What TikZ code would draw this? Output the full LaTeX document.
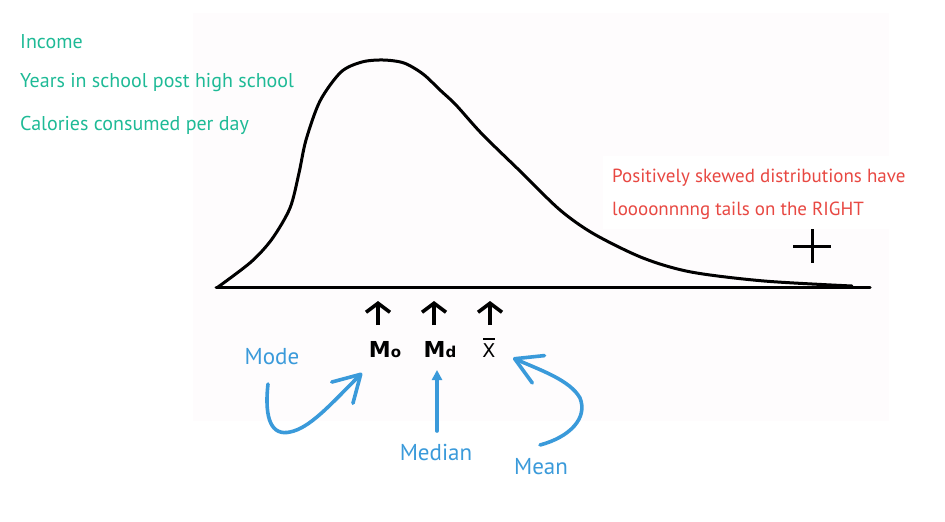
\documentclass[tikz,border=0pt]{standalone}
\usepackage{fontspec}
\setmainfont{PT Sans}
\newfontfamily\handfont{PT Sans}
\newfontfamily\symfont{DejaVu Sans}
\usetikzlibrary{arrows.meta}
\definecolor{bgpink}{RGB}{254,252,253}
\definecolor{tealgreen}{RGB}{30,186,150}
\definecolor{skewred}{RGB}{232,72,66}
\definecolor{annoblue}{RGB}{58,154,218}
\begin{document}
\begin{tikzpicture}[x=1pt,y=-1pt,
  hand/.style={font=\handfont\fontsize{20}{23}\selectfont, anchor=west, inner sep=0pt},
  greentext/.style={hand, text=tealgreen},
  redtext/.style={hand, font=\handfont\fontsize{19}{22}\selectfont, text=skewred},
  bluetext/.style={font=\handfont\fontsize{23}{26}\selectfont, inner sep=0pt, text=annoblue},
  measure/.style={font=\symfont\bfseries\fontsize{22}{24}\selectfont, inner sep=0pt},
  curveline/.style={line width=3pt, line join=round, line cap=round},
  uparrow/.style={line width=3.6pt, -{Straight Barb[length=9pt,width=24pt,line width=3.6pt]}},
  bluearrow/.style={annoblue, line width=3.6pt, line cap=round, line join=round},
  barbhead/.style={-{Straight Barb[length=26pt,width=30pt,line width=3.6pt, round]}},
  trihead/.style={-{Triangle[length=10pt,width=10pt]}}
]
\useasboundingbox (0,0) rectangle (945,522);
\fill[bgpink] (193,13) rectangle (889,421);
\fill[white] (603,156) rectangle (945,229);

% texts at top left
\node[greentext] (income) at (20,42) {Income};
\node[greentext] (years) at (20,83) {Years in school post high school};
\node[greentext] (calories) at (20,125) {Calories consumed per day};

% red note
\node[redtext] (note1) at (612,178) {Positively skewed distributions have};
\node[redtext] (note2) at (612,211) {loooonnnng tails on the RIGHT};

% axis and curve
\coordinate (axisL) at (216,287);
\coordinate (axisR) at (870,287);
\draw[curveline] (axisL) -- (axisR);
\draw[curveline] plot[smooth, tension=0.5] coordinates {
 (218,287) (251,262) (272,239) (290,208) (299,173) (306,140) (320,101)
 (341,72) (362,62) (383,60) (404,63) (423,74) (440,90) (456,105) (482,134) (521,172)
 (560,210) (594,234) (643,258) (691,272) (764,281) (852,286)};

% plus sign
\node[inner sep=0pt, minimum size=0pt] (plus) at (812,246) {};
\draw[line width=3pt] (793,246) -- (831,246) (812,229) -- (812,263);

% measure labels
\node[measure, anchor=base] (mo) at (385,357) {M{\fontsize{15}{15}\selectfont o}};
\node[measure, anchor=base] (md) at (440,357) {M{\fontsize{15}{15}\selectfont d}};
\node[font=\symfont\fontsize{19}{20}\selectfont, inner sep=0pt, anchor=base] (xbar) at (489,357) {X};
\draw[line width=2pt] ([xshift=1pt,yshift=3.5pt]xbar.north west) -- ([xshift=-1pt,yshift=3.5pt]xbar.north east);

% black up arrows
\coordinate (a1b) at (378,325); \coordinate (a1t) at (378,301);
\coordinate (a2b) at (434,325); \coordinate (a2t) at (434,301);
\coordinate (a3b) at (490,325); \coordinate (a3t) at (490,301);
\draw[uparrow] (a1b) -- (a1t);
\draw[uparrow] (a2b) -- (a2t);
\draw[uparrow] (a3b) -- (a3t);

% blue labels
\node[bluetext] (mode) at (272,357) {Mode};
\node[bluetext] (median) at (436,452) {Median};
\node[bluetext] (mean) at (541,467) {Mean};

% blue arrows
\coordinate (modeS) at (268,384);
\coordinate (modeT) at (362,373);
\draw[bluearrow, barbhead] (modeS) .. controls (264,420) and (272,436) .. (290,432)
  .. controls (310,428) and (330,405) .. (modeT);

\coordinate (medS) at (437,431);
\coordinate (medT) at (437,370);
\draw[bluearrow, trihead] (medS) -- (medT);

\coordinate (meanS) at (540,445);
\coordinate (meanT) at (513,358);
\draw[bluearrow, barbhead] (meanS) .. controls (570,437) and (588,418) .. (580,398)
  .. controls (570,380) and (540,370) .. (meanT);
\end{tikzpicture}
\end{document}
